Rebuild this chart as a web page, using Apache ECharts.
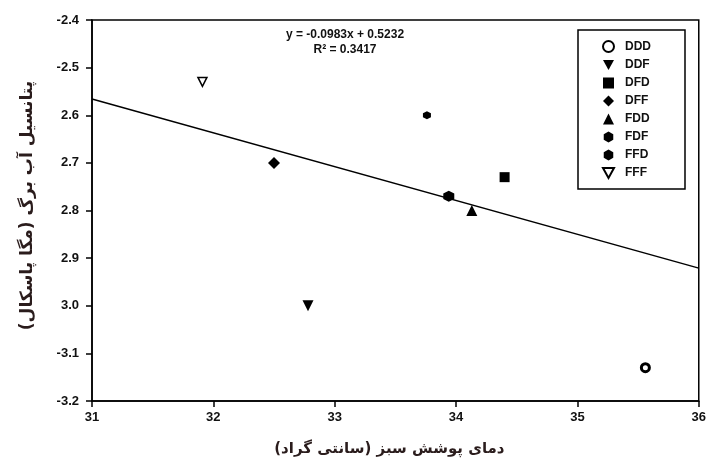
<!DOCTYPE html>
<html><head><meta charset="utf-8">
<script src="https://cdn.jsdelivr.net/npm/echarts@6/dist/echarts.min.js"></script>
<style>html,body{margin:0;padding:0;background:#fff}#c{width:709px;height:464px}</style>
</head><body><div id="c"></div>
<script>
const groups = ['DDD','DDF','DFD','DFF','FDD','FDF','FFD','FFF'];
const xValues = [35.56, 32.78, 34.40, 32.50, 34.13, 33.94, 33.76, 31.91];
const yValues = [-3.13, -3.00, -2.73, -2.70, -2.80, -2.77, -2.60, -2.53];
const trendX = [31, 36];
const trendY = [-2.566, -2.921];
const xTicks = ['31','32','33','34','35','36'];
const yTicks = ['-3.2','-3.1','3.0','2.9','2.8','2.7','2.6','-2.5','-2.4'];
const equationLines = ['y = -0.0983x + 0.5232', 'R² = 0.3417'];
const xTitle = 'دمای پوشش سبز (سانتی گراد)';
const yTitle = 'پتانسیل آب برگ (مگا پاسکال)';

const hex = 'path://M5,0 L9.33,2.5 L9.33,7.5 L5,10 L0.67,7.5 L0.67,2.5 Z';
const downTri = 'path://M0,0 L10,0 L5,9 Z';
const styles = {
  DDD: {symbol:'circle', size:8, color:'#fff', borderWidth:3},
  DDF: {symbol:downTri, size:11, color:'#000', borderWidth:0},
  DFD: {symbol:'rect', size:10, color:'#000', borderWidth:0},
  DFF: {symbol:'diamond', size:12, color:'#000', borderWidth:0},
  FDD: {symbol:'triangle', size:11, color:'#000', borderWidth:0},
  FDF: {symbol:hex, size:11, color:'#000', borderWidth:0},
  FFD: {symbol:hex, size:8, color:'#000', borderWidth:0},
  FFF: {symbol:downTri, size:9, color:'#fff', borderWidth:1.5}
};

const chart = echarts.init(document.getElementById('c'), null, {renderer:'canvas'});
const series = groups.map((g,i)=>({
  name:g, type:'scatter', data:[[xValues[i], yValues[i]]],
  symbol:styles[g].symbol, symbolSize:styles[g].size,
  itemStyle:{color:styles[g].color, borderColor:'#000', borderWidth:styles[g].borderWidth, opacity:1},
  z:3
}));
series.push({
  name:'trend', type:'line', data:trendX.map((x,i)=>[x,trendY[i]]),
  symbol:'none', lineStyle:{color:'#000', width:1.5}, z:2, silent:true
});
const tickFont = {fontFamily:'Liberation Sans, Arial', fontWeight:'bold', fontSize:13, color:'#111'};
chart.setOption({
  animation:false,
  backgroundColor:'#fff',
  grid:{left:92, right:8, top:20, bottom:63, show:true, borderColor:'#000', borderWidth:1.5},
  xAxis:{type:'value', min:31, max:36, interval:1,
    axisLine:{show:true, onZero:false, lineStyle:{color:'#000', width:1.5}},
    axisTick:{show:true, inside:false, length:6, lineStyle:{color:'#000', width:1.5}},
    splitLine:{show:false},
    axisLabel:Object.assign({margin:10, formatter:(v)=>xTicks[Math.round(v-31)]}, tickFont),
    name:xTitle, nameLocation:'middle', nameGap:41,
    nameTextStyle:{fontFamily:'DejaVu Sans', fontWeight:'bold', fontSize:15, color:'#2a1c1c', padding:[0,12,0,0]}
  },
  yAxis:{type:'value', min:-3.2, max:-2.4, interval:0.1,
    axisLine:{show:true, onZero:false, lineStyle:{color:'#000', width:1.5}},
    axisTick:{show:true, inside:false, length:6, lineStyle:{color:'#000', width:1.5}},
    splitLine:{show:false},
    axisLabel:Object.assign({margin:13, formatter:(v)=>yTicks[Math.round((v+3.2)*10)]}, tickFont),
    name:yTitle, nameLocation:'middle', nameGap:56, nameRotate:90,
    nameTextStyle:{fontFamily:'DejaVu Sans', fontWeight:'bold', fontSize:17, color:'#2a1c1c', padding:[0,0,0,10]}
  },
  legend:{
    data:groups, orient:'vertical', left:578, top:30,
    padding:[10,34,10,24], itemGap:6, itemWidth:11, itemHeight:11,
    borderColor:'#000', borderWidth:1.5, backgroundColor:'#fff',
    textStyle:{fontFamily:'Liberation Sans, Arial', fontWeight:'bold', fontSize:12, color:'#111', padding:[0,0,0,6]}
  },
  graphic:[{
    type:'text', left:345-80, top:27,
    style:{text:equationLines.join('\n'), x:0, y:0, textAlign:'center', width:160, align:'center',
      font:'bold 12px "Liberation Sans", Arial', fill:'#111', lineHeight:15}
  }],
  series:series
});
</script></body></html>
